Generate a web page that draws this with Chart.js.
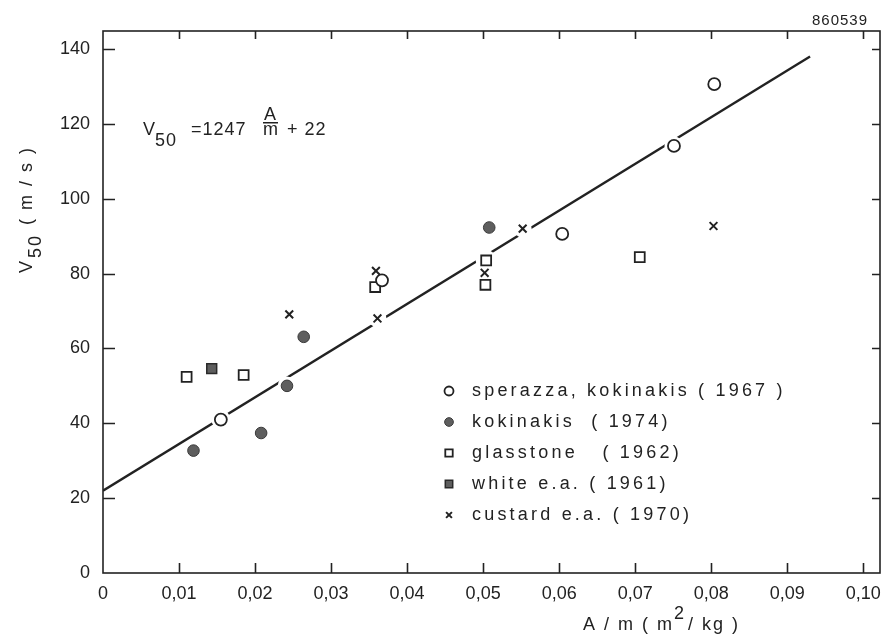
<!DOCTYPE html>
<html>
<head>
<meta charset="utf-8">
<script src="https://cdn.jsdelivr.net/npm/chart.js@4.4.0/dist/chart.umd.min.js"></script>
<style>
body { margin: 0; background: #fff; }
canvas { display: block; }
</style>
</head>
<body>
<canvas id="chart" width="884" height="635"></canvas>
<script>
// values (x = A/m in m2/kg, y = V50 in m/s)
const sperazzaX = [0.0155, 0.0367, 0.0604, 0.0751, 0.0804];
const sperazzaY = [41.0, 78.2, 90.6, 114.1, 130.6];
const kokinakisX = [0.0119, 0.0208, 0.0242, 0.0264, 0.0508];
const kokinakisY = [32.7, 37.4, 50.0, 63.1, 92.3];
const glasstoneX = [0.0110, 0.0185, 0.0358, 0.0504, 0.0503, 0.0706];
const glasstoneY = [52.4, 52.9, 76.4, 83.5, 77.0, 84.4];
const whiteX = [0.0143];
const whiteY = [54.6];
const custardX = [0.0245, 0.0359, 0.0361, 0.0502, 0.0552, 0.0803];
const custardY = [69.1, 80.7, 68.0, 80.2, 92.0, 92.7];

// fitted line V50 = 1247 A/m + 22
const fitX = [0, 0.093];
const fitY = [22, 138];

const seriesLabels = [
    "sperazza, kokinakis ( 1967 )",
    "kokinakis  ( 1974)",
    "glasstone   ( 1962)",
    "white e.a. ( 1961)",
    "custard e.a. ( 1970)"
];

const FONT = "'Liberation Sans', Arial, sans-serif";
const INK = "#222";

function toPoints(xs, ys) {
    return xs.map((x, i) => ({ x: x, y: ys[i] }));
}

function fmtX(v) {
    if (Math.abs(v) < 1e-9) return "0";
    return v.toFixed(2).replace(".", ",");
}

const frame = {
    id: "frame",
    beforeDatasetsDraw(chart) {
        const ctx = chart.ctx;
        const a = chart.chartArea;
        const xs = chart.scales.x;
        const ys = chart.scales.y;
        ctx.save();
        ctx.strokeStyle = INK;
        ctx.lineWidth = 1.6;
        ctx.strokeRect(a.left, a.top, a.right - a.left, a.bottom - a.top);
        ctx.beginPath();
        xs.ticks.forEach(t => {
            if (t.value === 0) return;
            const px = Math.round(xs.getPixelForValue(t.value)) + 0.5;
            ctx.moveTo(px, a.bottom);
            ctx.lineTo(px, a.bottom - 10);
            ctx.moveTo(px, a.top);
            ctx.lineTo(px, a.top + 8);
        });
        ys.ticks.forEach(t => {
            if (t.value === 0) return;
            const py = Math.round(ys.getPixelForValue(t.value)) + 0.5;
            ctx.moveTo(a.left, py);
            ctx.lineTo(a.left + 12, py);
            ctx.moveTo(a.right, py);
            ctx.lineTo(a.right - 8, py);
        });
        ctx.stroke();
        ctx.restore();
    }
};

// the printed fit line is broken around every symbol: paint a white gap
const gaps = {
    id: "gaps",
    afterDatasetDraw(chart, args) {
        if (args.index !== 0) return;
        const ctx = chart.ctx;
        ctx.save();
        ctx.fillStyle = "#fff";
        chart.data.datasets.forEach((ds, i) => {
            if (i === 0) return;
            chart.getDatasetMeta(i).data.forEach(pt => {
                ctx.beginPath();
                ctx.arc(pt.x, pt.y, ds.pointRadius + 3.5, 0, Math.PI * 2);
                ctx.fill();
            });
        });
        ctx.restore();
    }
};

const texts = {
    id: "texts",
    afterDraw(chart) {
        const ctx = chart.ctx;
        ctx.save();
        ctx.fillStyle = INK;
        ctx.strokeStyle = INK;
        ctx.textBaseline = "alphabetic";
        ctx.textAlign = "left";

        // drawing number in the corner
        ctx.font = "15px " + FONT;
        ctx.letterSpacing = "1px";
        ctx.fillText("860539", 812, 25);

        // formula
        ctx.font = "18px " + FONT;
        ctx.letterSpacing = "1px";
        ctx.fillText("V", 143, 135);
        ctx.fillText("50", 155, 146);
        ctx.fillText("=1247", 191, 135);
        ctx.fillText("A", 264, 120);
        ctx.fillText("m", 263, 135);
        ctx.fillRect(263, 122, 15, 1.5);
        ctx.fillText("+ 22", 287, 135);

        // x axis title
        ctx.letterSpacing = "2px";
        ctx.fillText("A / m ( m", 583, 630);
        let w = ctx.measureText("A / m ( m").width;
        ctx.fillText("2", 583 + w, 619);
        w += ctx.measureText("2").width;
        ctx.fillText("/ kg )", 583 + w + 2, 630);

        // y axis title, rotated
        ctx.translate(32, 273);
        ctx.rotate(-Math.PI / 2);
        ctx.fillText("V", 0, 0);
        ctx.fillText("50", 15, 9);
        ctx.fillText("( m / s )", 48, 0);
        ctx.restore();

        // legend inside the plot
        ctx.save();
        const rowY = [391, 422, 453, 484, 515];
        chart.data.datasets.forEach((ds, i) => {
            if (!ds.label) return;
            const y = rowY[ds.legendRow];
            ctx.fillStyle = ds.backgroundColor;
            ctx.strokeStyle = ds.borderColor;
            ctx.lineWidth = ds.borderWidth;
            if (Chart.helpers && Chart.helpers.drawPoint) {
                Chart.helpers.drawPoint(ctx, {
                    pointStyle: ds.pointStyle,
                    radius: ds.pointRadius * 0.75,
                    rotation: 0,
                    borderWidth: ds.borderWidth
                }, 449, y);
            }
            ctx.fillStyle = INK;
            ctx.font = "18px " + FONT;
            ctx.letterSpacing = "3.2px";
            ctx.textBaseline = "middle";
            ctx.fillText(ds.label, 472, y);
        });
        ctx.restore();
    }
};

new Chart(document.getElementById("chart"), {
    type: "scatter",
    data: {
        datasets: [
            {
                type: "line",
                data: toPoints(fitX, fitY),
                borderColor: INK,
                borderWidth: 2.4,
                pointRadius: 0,
                fill: false,
                order: 10
            },
            {
                label: seriesLabels[0], legendRow: 0,
                data: toPoints(sperazzaX, sperazzaY),
                pointStyle: "circle", pointRadius: 6,
                backgroundColor: "#fff", borderColor: INK, borderWidth: 1.8,
                order: 1
            },
            {
                label: seriesLabels[1], legendRow: 1,
                data: toPoints(kokinakisX, kokinakisY),
                pointStyle: "circle", pointRadius: 5.8,
                backgroundColor: "#5e5e5e", borderColor: "#3a3a3a", borderWidth: 1,
                order: 1
            },
            {
                label: seriesLabels[2], legendRow: 2,
                data: toPoints(glasstoneX, glasstoneY),
                pointStyle: "rect", pointRadius: 7,
                backgroundColor: "#fff", borderColor: INK, borderWidth: 1.8,
                order: 1
            },
            {
                label: seriesLabels[3], legendRow: 3,
                data: toPoints(whiteX, whiteY),
                pointStyle: "rect", pointRadius: 7,
                backgroundColor: "#5e5e5e", borderColor: "#2a2a2a", borderWidth: 1.5,
                order: 1
            },
            {
                label: seriesLabels[4], legendRow: 4,
                data: toPoints(custardX, custardY),
                pointStyle: "crossRot", pointRadius: 5.5,
                backgroundColor: INK, borderColor: INK, borderWidth: 2,
                order: 1
            }
        ]
    },
    options: {
        responsive: false,
        animation: false,
        devicePixelRatio: 1,
        layout: {
            autoPadding: false,
            padding: { top: 31, right: 4, left: 0, bottom: 0 }
        },
        plugins: {
            legend: { display: false },
            tooltip: { enabled: false }
        },
        scales: {
            x: {
                type: "linear",
                min: 0,
                max: 0.1022,
                grid: { display: false, drawTicks: false },
                border: { display: false },
                ticks: {
                    stepSize: 0.01,
                    includeBounds: false,
                    padding: 10,
                    color: INK,
                    maxRotation: 0,
                    autoSkip: false,
                    font: { family: FONT, size: 18 },
                    callback: v => fmtX(v)
                },
                afterFit: s => {
                    s.height = 62;
                    s.paddingLeft = 0;
                    s.paddingRight = 0;
                }
            },
            y: {
                type: "linear",
                min: 0,
                max: 144.8,
                grid: { display: false, drawTicks: false },
                border: { display: false },
                ticks: {
                    stepSize: 20,
                    includeBounds: false,
                    padding: 13,
                    color: INK,
                    font: { family: FONT, size: 18 }
                },
                afterFit: s => {
                    s.width = 103;
                    s.paddingTop = 0;
                    s.paddingBottom = 0;
                }
            }
        }
    },
    plugins: [frame, gaps, texts]
});
</script>
</body>
</html>
